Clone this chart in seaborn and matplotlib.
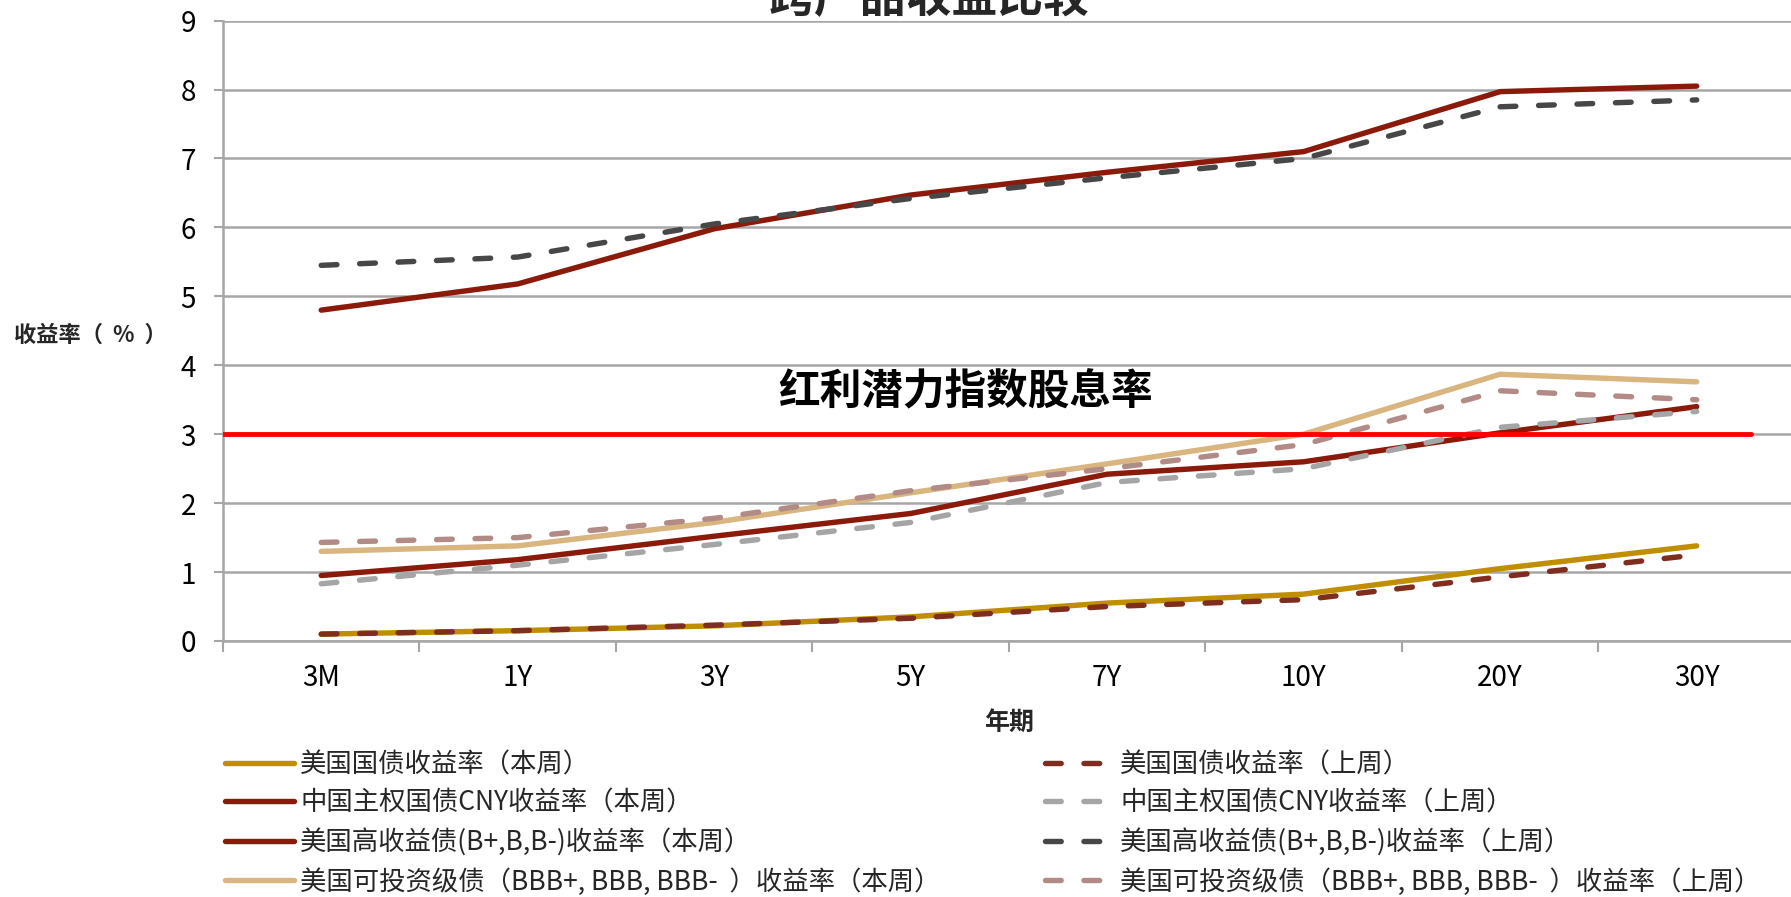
import matplotlib
matplotlib.use('Agg')
import pandas as pd
import matplotlib.pyplot as plt
import seaborn as sns

# 数据
tenors = ['3M', '1Y', '3Y', '5Y', '7Y', '10Y', '20Y', '30Y']

us_tsy_now = [0.10, 0.15, 0.22, 0.35, 0.55, 0.68, 1.05, 1.38]
us_tsy_prev = [0.10, 0.15, 0.23, 0.33, 0.50, 0.60, 0.93, 1.25]
cn_cny_now = [0.95, 1.18, 1.52, 1.85, 2.42, 2.60, 3.02, 3.40]
cn_cny_prev = [0.83, 1.10, 1.40, 1.72, 2.30, 2.50, 3.10, 3.33]
us_hy_now = [4.80, 5.18, 5.98, 6.47, 6.80, 7.10, 7.97, 8.05]
us_hy_prev = [5.45, 5.57, 6.05, 6.42, 6.72, 7.00, 7.75, 7.85]
us_ig_now = [1.30, 1.38, 1.72, 2.15, 2.57, 3.00, 3.87, 3.76]
us_ig_prev = [1.43, 1.50, 1.78, 2.18, 2.50, 2.85, 3.63, 3.50]

dividend_yield = 3.0

labels_now = ['美国国债收益率（本周）', '中国主权国债CNY收益率（本周）',
              '美国高收益债(B+,B,B-)收益率（本周）',
              '美国可投资级债（BBB+, BBB, BBB-  ）收益率（本周）']
labels_prev = ['美国国债收益率（上周）', '中国主权国债CNY收益率（上周）',
               '美国高收益债(B+,B,B-)收益率（上周）',
               '美国可投资级债（BBB+, BBB, BBB-  ）收益率（上周）']

colors_now = ['#BF8F00', '#8B1A0A', '#8B1A0A', '#D9B580']
colors_prev = ['#7F2D1E', '#A5A5A5', '#474747', '#B38B86']

sns.set_theme(style='white')
plt.rcParams['font.family'] = ['Noto Sans CJK SC', 'DejaVu Sans']

fig = plt.figure(figsize=(17.91, 8.97), dpi=100)
ax = fig.add_axes([0.1245, 0.2854, 0.8777, 0.6916])

lw = 3.9
handles = []
for vals, lab, col in zip([us_tsy_now, cn_cny_now, us_hy_now, us_ig_now], labels_now, colors_now):
    sns.lineplot(x=tenors, y=vals, ax=ax, color=col, linewidth=lw, label=lab,
                 solid_capstyle='round', solid_joinstyle='round', sort=False)
    handles.append(ax.lines[-1])
for vals, lab, col in zip([us_tsy_prev, cn_cny_prev, us_hy_prev, us_ig_prev], labels_prev, colors_prev):
    sns.lineplot(x=tenors, y=vals, ax=ax, color=col, linewidth=lw, label=lab,
                 linestyle=(0, (2.9, 4.2)), dash_capstyle='round', sort=False)
    handles.append(ax.lines[-1])

# 红利潜力指数股息率
ax.axhline(dividend_yield, xmin=0, xmax=0.972, color='#FF0000', linewidth=3.5, zorder=5)
ax.text(3.28, 3.6, '红利潜力指数股息率', fontsize=30, fontweight='bold',
        ha='center', va='center', color='black')

ax.set_xlim(-0.5, 7.5)
ax.set_ylim(0, 9)
ax.set_yticks(range(0, 10))
ax.set_xticks(range(len(tenors)))
ax.set_xticks([i - 0.5 for i in range(0, 8)], minor=True)
ax.grid(axis='y', color='#A6A6A6', linewidth=1.8)
ax.set_axisbelow(True)

for s in ['top', 'right']:
    ax.spines[s].set_visible(False)
for s in ['left', 'bottom']:
    ax.spines[s].set_color('#A6A6A6')
    ax.spines[s].set_linewidth(1.8)

ax.tick_params(axis='y', which='major', left=True, length=6.5, width=1.5, color='#A6A6A6',
               labelsize=20, pad=13, labelcolor='black')
ax.tick_params(axis='x', which='major', bottom=False, labelsize=20, pad=10, labelcolor='black')
ax.tick_params(axis='x', which='minor', bottom=True, length=8, width=1.5, color='#A6A6A6')

ax.set_xlabel('年期', fontsize=18, fontweight='bold', labelpad=13)
ax.set_ylabel('收益率（  %  ）', fontsize=16, fontweight='bold', rotation=0,
              ha='right', va='center')
ax.yaxis.set_label_coords(-0.036, 0.493)

fig.text(929 / 1791, 1 - 12 / 897, '跨产品收益比较', fontsize=33, fontweight='bold',
         ha='center', va='baseline')

leg_kw = dict(frameon=False, fontsize=19, handlelength=2.6, handletextpad=0.25,
              labelspacing=0.44, borderpad=0, borderaxespad=0,
              loc='upper left', bbox_transform=fig.transFigure)
leg1 = ax.legend(handles=handles[:4], labels=labels_now,
                 bbox_to_anchor=(225 / 1791, 1 - 751 / 897), **leg_kw)
ax.add_artist(leg1)
ax.legend(handles=handles[4:], labels=labels_prev,
          bbox_to_anchor=(1045 / 1791, 1 - 751 / 897), **leg_kw)

fig.savefig('out.png', dpi=100)
